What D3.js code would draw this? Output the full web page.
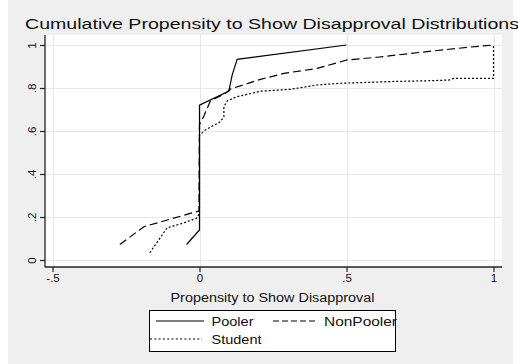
<!DOCTYPE html>
<html><head><meta charset="utf-8">
<script src="https://cdn.jsdelivr.net/npm/d3@7"></script>
<style>
html,body{margin:0;padding:0;background:#fff;}
svg{display:block;font-family:"Liberation Sans",Arial,sans-serif;}
</style></head>
<body>
<svg id="chart" width="518" height="364"></svg>
<script>
// ---- data ----
const titleText = "Cumulative Propensity to Show Disapproval Distributions";
const xTitle = "Propensity to Show Disapproval";
const seriesNames = ["Pooler", "NonPooler", "Student"];
const xTickValues = [-0.5, 0, 0.5, 1];
const xTickLabels = ["-.5", "0", ".5", "1"];
const yTickValues = [0, 0.2, 0.4, 0.6, 0.8, 1];
const yTickLabels = ["0", ".2", ".4", ".6", ".8", "1"];

const poolerX = [-0.044, 0, 0, 0.1, 0.111, 0.128, 0.5];
const poolerY = [0.072, 0.14, 0.72, 0.786, 0.86, 0.933, 1.0];

const nonPoolerX = [-0.271, -0.189, -0.002, 0, 0.015, 0.037, 0.088, 0.105, 0.207, 0.287, 0.4, 0.5, 0.604, 0.752, 0.91, 1];
const nonPoolerY = [0.072, 0.155, 0.228, 0.63, 0.67, 0.74, 0.775, 0.795, 0.84, 0.868, 0.891, 0.93, 0.943, 0.966, 0.989, 1];

const studentX = [-0.169, -0.11, -0.059, -0.01, 0, 0, 0.02, 0.071, 0.083, 0.083, 0.094, 0.128, 0.162, 0.207, 0.31, 0.4, 0.48, 0.548, 0.65, 0.786, 0.848, 0.865, 1, 1];
const studentY = [0.034, 0.15, 0.17, 0.194, 0.217, 0.58, 0.605, 0.643, 0.667, 0.713, 0.74, 0.76, 0.77, 0.785, 0.794, 0.814, 0.822, 0.825, 0.83, 0.834, 0.837, 0.845, 0.845, 1];

// ---- layout ----
const svg = d3.select("#chart");
const plot = {left: 45, right: 502, top: 35, bottom: 267};
const x = d3.scaleLinear().domain([-0.5, 1]).range([52.5, 493.5]);
const y = d3.scaleLinear().domain([0, 1]).range([260, 45]);

// outer background
svg.append("rect").attr("x", 8).attr("y", 0).attr("width", 505).attr("height", 364).attr("fill", "#efefef");
// plot region
svg.append("rect").attr("x", plot.left).attr("y", plot.top)
  .attr("width", plot.right - plot.left).attr("height", plot.bottom - plot.top).attr("fill", "#fff");

// gridlines
const grid = svg.append("g").attr("stroke", "#e6e6e6").attr("stroke-width", 1);
grid.selectAll("line.h").data(yTickValues).join("line").attr("class", "h")
  .attr("x1", plot.left).attr("x2", plot.right)
  .attr("y1", d => Math.round(y(d)) + 0.5).attr("y2", d => Math.round(y(d)) + 0.5);
grid.selectAll("line.v").data(xTickValues).join("line").attr("class", "v")
  .attr("y1", plot.top).attr("y2", plot.bottom)
  .attr("x1", d => Math.round(x(d)) + 0.5).attr("x2", d => Math.round(x(d)) + 0.5);

// series lines
const series = [
  {name: seriesNames[0], xs: poolerX, ys: poolerY, dash: null},
  {name: seriesNames[1], xs: nonPoolerX, ys: nonPoolerY, dash: "8,4"},
  {name: seriesNames[2], xs: studentX, ys: studentY, dash: "2,2"}
];
const line = d3.line().x(d => x(d[0])).y(d => y(d[1]));
series.forEach(s => {
  const pts = s.xs.map((v, i) => [v, s.ys[i]]);
  svg.append("path").datum(pts).attr("d", line)
    .attr("fill", "none").attr("stroke", "#000").attr("stroke-width", 1.2)
    .attr("stroke-dasharray", s.dash);
});

// axes
const xAxis = d3.axisBottom(x).tickValues(xTickValues).tickSize(5)
  .tickFormat((d, i) => xTickLabels[i]);
const gx = svg.append("g").attr("transform", `translate(0,${plot.bottom})`).call(xAxis);
gx.select(".domain").remove();
gx.selectAll(".tick line").attr("stroke", "#222").attr("stroke-width", 1.2);
gx.selectAll(".tick text").attr("font-size", 11.5).attr("fill", "#111").attr("y", 7).attr("dy", "0.71em");

const yAxis = d3.axisLeft(y).tickValues(yTickValues).tickSize(5)
  .tickFormat((d, i) => yTickLabels[i]);
const gy = svg.append("g").attr("transform", `translate(${plot.left},0)`).call(yAxis);
gy.select(".domain").remove();
gy.selectAll(".tick line").attr("stroke", "#222").attr("stroke-width", 1.2);
gy.selectAll(".tick text").attr("font-size", 11.5).attr("fill", "#111")
  .attr("x", 0).attr("dy", null).attr("text-anchor", "middle")
  .attr("transform", "translate(-9.5,0) rotate(-90)");

svg.append("line").attr("x1", plot.left).attr("x2", plot.left).attr("y1", plot.top).attr("y2", plot.bottom)
  .attr("stroke", "#222").attr("stroke-width", 1.3);
svg.append("line").attr("x1", plot.left).attr("x2", plot.right).attr("y1", plot.bottom).attr("y2", plot.bottom)
  .attr("stroke", "#222").attr("stroke-width", 1.3);

// title
svg.append("text").attr("x", 25).attr("y", 29).attr("font-size", 15.5).attr("fill", "#111")
  .attr("textLength", 494).attr("lengthAdjust", "spacingAndGlyphs").text(titleText);
// x axis title
svg.append("text").attr("x", 170.5).attr("y", 301.5).attr("font-size", 12.5).attr("fill", "#111")
  .attr("textLength", 204).attr("lengthAdjust", "spacingAndGlyphs").text(xTitle);

// legend
const lg = svg.append("g");
lg.append("rect").attr("x", 149.5).attr("y", 310.5).attr("width", 246).attr("height", 41)
  .attr("fill", "#fff").attr("stroke", "#000").attr("stroke-width", 1);
const legendItems = [
  {name: seriesNames[0], dash: null, x1: 156, x2: 204, tx: 211.5, ty: 325.5, ly: 321, tl: 42},
  {name: seriesNames[1], dash: "6,3", x1: 273, x2: 318, tx: 324, ty: 325.5, ly: 321, tl: 73},
  {name: seriesNames[2], dash: "2,2.3", x1: 150, x2: 202, tx: 211.5, ty: 343.5, ly: 339, tl: 50}
];
legendItems.forEach(it => {
  lg.append("line").attr("x1", it.x1).attr("x2", it.x2).attr("y1", it.ly).attr("y2", it.ly)
    .attr("stroke", "#000").attr("stroke-width", 1.2).attr("stroke-dasharray", it.dash);
  lg.append("text").attr("x", it.tx).attr("y", it.ty).attr("font-size", 13).attr("fill", "#111")
    .attr("textLength", it.tl).attr("lengthAdjust", "spacingAndGlyphs").text(it.name);
});
</script>
</body></html>
